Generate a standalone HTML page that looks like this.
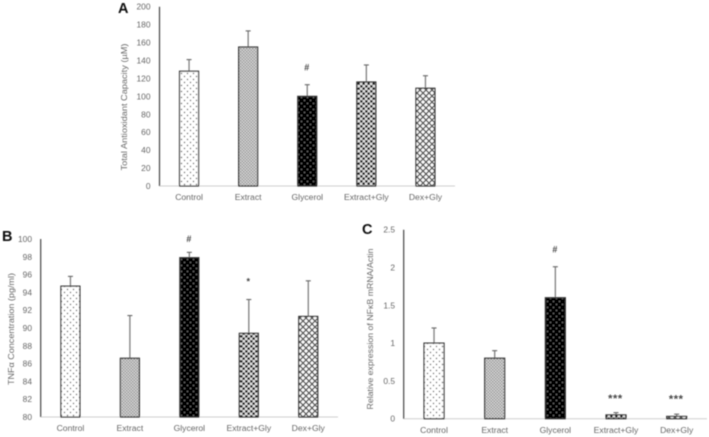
<!DOCTYPE html>
<html lang="en">
<head>
<meta charset="utf-8">
<title>Antioxidant capacity, TNF-alpha and NF-kB bar charts</title>
<style>
html,body{margin:0;padding:0;background:#fff;width:709px;height:437px;overflow:hidden}
svg{display:block}
text{font-family:"Liberation Sans",sans-serif;fill:#666}
</style>
</head>
<body>
<svg id="figure" xmlns="http://www.w3.org/2000/svg" width="709" height="437" viewBox="0 0 709 437">
  <defs>
    <filter id="soft" x="-5%" y="-5%" width="110%" height="110%"><feGaussianBlur stdDeviation="0.45"/></filter>
    <pattern id="pat-control" patternUnits="userSpaceOnUse" width="6" height="6">
      <rect width="6" height="6" fill="#fff"/>
      <circle cx="1.5" cy="1.5" r="0.7" fill="#444"/>
      <circle cx="4.5" cy="4.5" r="0.7" fill="#444"/>
    </pattern>
    <pattern id="pat-extract" patternUnits="userSpaceOnUse" width="3" height="3">
      <rect width="3" height="3" fill="#d4d4d4"/>
      <circle cx="0.75" cy="0.75" r="0.6" fill="#666"/>
      <circle cx="2.25" cy="2.25" r="0.6" fill="#666"/>
    </pattern>
    <pattern id="pat-glycerol" patternUnits="userSpaceOnUse" width="6" height="6">
      <rect width="6" height="6" fill="#060606"/>
      <circle cx="1.5" cy="1.5" r="0.7" fill="#777"/>
      <circle cx="4.5" cy="4.5" r="0.7" fill="#777"/>
    </pattern>
    <pattern id="pat-extract-gly" patternUnits="userSpaceOnUse" width="5" height="5">
      <rect width="5" height="5" fill="#ececec"/>
      <circle cx="1.25" cy="1.25" r="1.5" fill="#222"/>
      <circle cx="3.75" cy="3.75" r="1.5" fill="#222"/>
    </pattern>
    <pattern id="pat-dex-gly" patternUnits="userSpaceOnUse" width="6" height="6">
      <rect width="6" height="6" fill="#fff"/>
      <path d="M0 0L6 6M6 0L0 6" stroke="#555" stroke-width="1.35"/>
    </pattern>
  </defs>
  <g id="root" filter="url(#soft)"></g>
</svg>
<script>
const categories = ['Control', 'Extract', 'Glycerol', 'Extract+Gly', 'Dex+Gly'];

const valuesA = [128, 155, 100, 116, 109];
const errorsA = [13, 18, 13, 19, 14];
const ticksA = ['0', '20', '40', '60', '80', '100', '120', '140', '160', '180', '200'];
const marksA = ['', '', '#', '', ''];
const markLevelsA = [null, null, 132, null, null];

const valuesB = [94.7, 86.6, 97.9, 89.4, 91.3];
const errorsB = [1.1, 4.8, 0.6, 3.8, 4.0];
const ticksB = ['80', '82', '84', '86', '88', '90', '92', '94', '96', '98', '100'];
const marksB = ['', '', '#', '*', ''];
const markLevelsB = [null, null, 100, 95.2, null];

const valuesC = [1.0, 0.8, 1.6, 0.05, 0.03];
const errorsC = [0.2, 0.1, 0.41, 0.03, 0.03];
const ticksC = ['0', '0.5', '1', '1.5', '2', '2.5'];
const marksC = ['', '', '#', '***', '***'];
const markLevelsC = [null, null, 2.24, 0.29, 0.28];

const fills = ['pat-control', 'pat-extract', 'pat-glycerol', 'pat-extract-gly', 'pat-dex-gly'];

const panels = [
  {id:'a', letter:'A', lx:118, ly:13, title:'Total Antioxidant Capacity (\u00B5M)', tx:124, ty:107, tl:127,
   values:valuesA, errors:errorsA, ticks:ticksA, marks:marksA, levels:markLevelsA, min:0, max:200,
   x0:159.5, x1:455, y0:186, y1:6.7, bw:19, tickX:150.5, catY:200},
  {id:'b', letter:'B', lx:2, ly:241, title:'TNF\u03B1 Concentration (pg/ml)', tx:11, ty:329, tl:112,
   values:valuesB, errors:errorsB, ticks:ticksB, marks:marksB, levels:markLevelsB, min:80, max:100,
   x0:40.7, x1:338, y0:417, y1:239, bw:19, tickX:32, catY:431},
  {id:'c', letter:'C', lx:362, ly:234, title:'Relative expression of NF\u03BAB mRNA/Actin', tx:370, ty:329, tl:161,
   values:valuesC, errors:errorsC, ticks:ticksC, marks:marksC, levels:markLevelsC, min:0, max:2.5,
   x0:403.7, x1:707, y0:418.7, y1:229.7, bw:20, tickX:395, catY:433}
];

const NS = 'http://www.w3.org/2000/svg';
const root = document.getElementById('root');

function make(tag, parent, props, content) {
  const el = document.createElementNS(NS, tag);
  for (const key in props) el.setAttribute(key, props[key]);
  if (content !== undefined) el.textContent = content;
  parent.appendChild(el);
  return el;
}

panels.forEach(function (p) {
  const scaleY = function (v) { return p.y0 - (v - p.min) / (p.max - p.min) * (p.y0 - p.y1); };
  const band = (p.x1 - p.x0) / categories.length;
  const scaleX = function (i) { return p.x0 + band * (i + 0.5); };

  const g = make('g', root, {});
  
  

  const letter = make('text', g, {x:p.lx, y:p.ly, 'font-size':14.5, 'font-weight':'bold', style:'fill:#111'}, p.letter);
  
  

  const yTitle = make('text', g, {x:0, y:0, 'font-size':8.6, 'text-anchor':'middle', textLength:p.tl, lengthAdjust:'spacingAndGlyphs',
    transform:'translate(' + (p.tx + 3) + ' ' + p.ty + ') rotate(-90)'}, p.title);
  
  

  p.ticks.forEach(function (label) {
    const tick = make('text', g, {x:p.tickX, y:scaleY(parseFloat(label)) + 3, 'font-size':8.4, 'text-anchor':'end'}, label);
    
    
  });

  const xAxis = make('line', g, {x1:p.x0, x2:p.x1, y1:p.y0, y2:p.y0, stroke:'#cfcfcf', 'stroke-width':1});
  
  

  categories.forEach(function (name, i) {
    const cx = scaleX(i);
    const top = scaleY(p.values[i]);
    const errTop = scaleY(p.values[i] + p.errors[i]);

    const whisker = make('line', g, {x1:cx, x2:cx, y1:top, y2:errTop, stroke:'#808080', 'stroke-width':1.3});
    
    

    const cap = make('line', g, {x1:cx - 2.5, x2:cx + 2.5, y1:errTop, y2:errTop, stroke:'#666', 'stroke-width':1.1});
    
    

    const bar = make('rect', g, {x:cx - p.bw / 2, y:top, width:p.bw, height:p.y0 - top,
      fill:'url(#' + fills[i] + ')', stroke:'#333', 'stroke-width':1.2});
    
    

    const catLabel = make('text', g, {x:cx, y:p.catY, 'font-size':8.6, 'text-anchor':'middle'}, name);
    
    

    if (p.marks[i]) {
      const stars = p.marks[i] === '***';
      const mark = make('text', g, {x:cx - 0.5, y:scaleY(p.levels[i]) + (stars ? 5 : 3), 'font-size':stars ? 11 : 9, 'letter-spacing':stars ? 0.6 : 0,
        'font-weight':'bold', 'text-anchor':'middle', style:'fill:#444'}, p.marks[i]);
      
      
    }
  });

  const yAxis = make('line', g, {x1:p.x0, x2:p.x0, y1:p.y1, y2:p.y0, stroke:'#444', 'stroke-width':1.2});
  
  
});
</script>
</body>
</html>
